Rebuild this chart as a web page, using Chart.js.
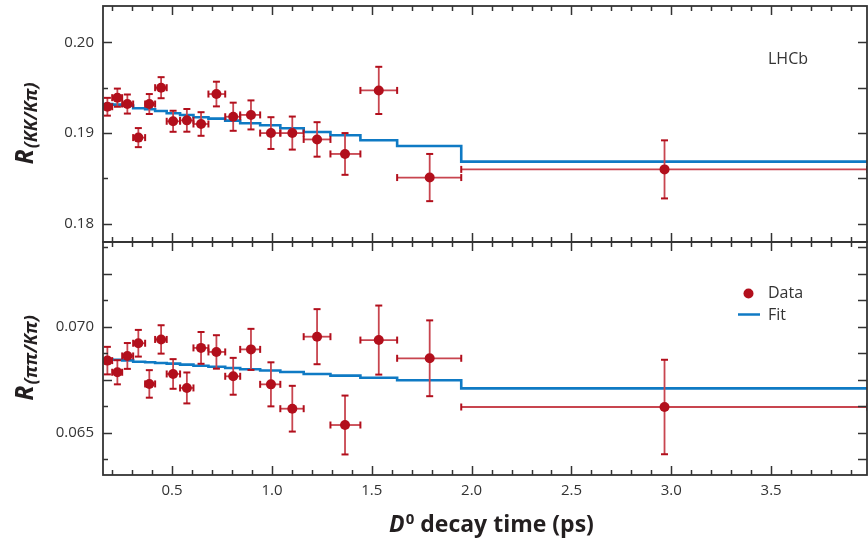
<!DOCTYPE html>
<html><head><meta charset="utf-8">
<script src="https://cdn.jsdelivr.net/npm/chart.js@4"></script>
<style>
html,body{margin:0;padding:0;background:#fff;overflow:hidden;}
#wrap{position:relative;width:868px;height:540px;overflow:hidden;}
canvas{position:absolute;left:0;}
#c1{top:0;} #c2{top:234px;}
</style></head><body>
<div id="wrap"><canvas id="c1" width="872" height="250"></canvas><canvas id="c2" width="872" height="306"></canvas></div>
<script>
// ---- data ----
const binEdges = [0.15, 0.20, 0.25, 0.305, 0.365, 0.415, 0.473, 0.54, 0.607, 0.682, 0.766, 0.841, 0.941, 1.042, 1.159, 1.293, 1.443, 1.627, 1.948, 3.98];
const decayTime = [0.176, 0.226, 0.276, 0.331, 0.386, 0.445, 0.505, 0.574, 0.645, 0.722, 0.806, 0.895, 0.995, 1.102, 1.226, 1.366, 1.535, 1.790, 2.966];
const rKK = [0.1929, 0.1939, 0.1932, 0.1895, 0.1932, 0.1950, 0.1913, 0.1914, 0.1910, 0.1943, 0.1918, 0.1920, 0.1900, 0.1900, 0.1893, 0.1877, 0.1947, 0.1851, 0.1860];
const rKKErr = [0.00098, 0.00100, 0.00105, 0.00105, 0.0011, 0.00116, 0.00116, 0.00125, 0.0013, 0.00136, 0.00155, 0.0016, 0.00175, 0.00182, 0.0019, 0.0023, 0.0026, 0.0026, 0.0032];
const fitKK = [0.19320, 0.19313, 0.19302, 0.19273, 0.19262, 0.19243, 0.19218, 0.19199, 0.19174, 0.19159, 0.19137, 0.19108, 0.19086, 0.19053, 0.19012, 0.18976, 0.18921, 0.18858, 0.18685];
const rPP = [0.06840, 0.06785, 0.06862, 0.06922, 0.06730, 0.06940, 0.06777, 0.06711, 0.06900, 0.06881, 0.06766, 0.06893, 0.06728, 0.06613, 0.06953, 0.06536, 0.06937, 0.06851, 0.06621];
const rPPErr = [0.00065, 0.00057, 0.00061, 0.00063, 0.00065, 0.00067, 0.0007, 0.00073, 0.00075, 0.00079, 0.00087, 0.00097, 0.00104, 0.00108, 0.0013, 0.00139, 0.00163, 0.00179, 0.00223];
const fitPP = [0.06846, 0.06844, 0.06841, 0.06835, 0.06832, 0.06829, 0.06826, 0.06821, 0.06816, 0.06811, 0.06805, 0.06799, 0.06793, 0.06786, 0.06777, 0.06769, 0.06759, 0.06747, 0.06709];
const xMajorTicks = [0.5, 1.0, 1.5, 2.0, 2.5, 3.0, 3.5];
const yTopLabels = [0.18, 0.19, 0.20];
const yBotLabels = [0.065, 0.070];

const X_MIN = 0.154, X_MAX = 3.98;
const FONT = "'Open Sans', sans-serif";
const RED = '#b20f1c', BAR = '#c8454f', BLUE = '#0f7ac4', FRAME = '#333333', TXT = '#333333';

function fitPoints(fit) {
  const pts = fit.map((v, i) => ({x: binEdges[i], y: v}));
  pts.push({x: binEdges[binEdges.length - 1], y: fit[fit.length - 1]});
  return pts;
}
function dataPoints(ys) { return ys.map((v, i) => ({x: decayTime[i], y: v})); }

const panels = {
  c1: {ys: rKK, errs: rKKErr, yMinorStep: 0.005, yLongStep: 0.01, sub: '(KK/Kπ)'},
  c2: {ys: rPP, errs: rPPErr, yMinorStep: 0.00125, yLongStep: 0.0025, sub: '(ππ/Kπ)'}
};

function line(ctx, x1, y1, x2, y2) { ctx.beginPath(); ctx.moveTo(x1, y1); ctx.lineTo(x2, y2); ctx.stroke(); }

function drawErrors(chart, p) {
  const {ctx, chartArea: a} = chart; const x = chart.scales.x, y = chart.scales.y;
  ctx.save();
  ctx.beginPath(); ctx.rect(a.left, a.top, a.right - a.left, a.bottom - a.top); ctx.clip();
  for (let i = 0; i < p.ys.length; i++) {
    const px = x.getPixelForValue(decayTime[i]), py = y.getPixelForValue(p.ys[i]);
    const xl = x.getPixelForValue(binEdges[i]), xr = x.getPixelForValue(binEdges[i + 1]);
    const yt = y.getPixelForValue(p.ys[i] + p.errs[i]), yb = y.getPixelForValue(p.ys[i] - p.errs[i]);
    ctx.strokeStyle = BAR; ctx.lineWidth = 1.8;
    line(ctx, xl, py, xr, py); line(ctx, px, yt, px, yb);
    ctx.strokeStyle = RED; ctx.lineWidth = 2;
    line(ctx, px - 3.5, yt, px + 3.5, yt); line(ctx, px - 3.5, yb, px + 3.5, yb);
    line(ctx, xl, py - 3.5, xl, py + 3.5); line(ctx, xr, py - 3.5, xr, py + 3.5);
  }
  ctx.restore();
}

function drawFrame(chart, p) {
  const {ctx, chartArea: a} = chart; const x = chart.scales.x, y = chart.scales.y;
  ctx.save();
  ctx.strokeStyle = FRAME; ctx.lineWidth = 1.5;
  for (let k = 2; k <= 39; k++) {
    const v = k / 10; if (v < X_MIN || v > X_MAX) continue;
    const px = Math.round(x.getPixelForValue(v)) + 0.5;
    const major = xMajorTicks.some(m => Math.abs(m - v) < 1e-6);
    const L = major ? 9 : 5;
    line(ctx, px, a.top, px, a.top + L);
    line(ctx, px, a.bottom, px, a.bottom - L);
  }
  const n0 = Math.ceil(y.min / p.yMinorStep - 1e-6), n1 = Math.floor(y.max / p.yMinorStep + 1e-6);
  for (let n = n0; n <= n1; n++) {
    const v = n * p.yMinorStep;
    const py = Math.round(y.getPixelForValue(v)) + 0.5;
    const r = v / p.yLongStep; const long = Math.abs(r - Math.round(r)) < 1e-4;
    line(ctx, a.left, py, a.left + (long ? 9 : 5), py);
    line(ctx, a.right, py, a.right - 9, py);
  }
  ctx.lineWidth = 1.8;
  ctx.strokeRect(a.left, a.top, a.right - a.left, a.bottom - a.top);
  ctx.restore();
}

function drawYTitle(chart, p) {
  const {ctx, chartArea: a} = chart;
  const cy = (a.top + a.bottom) / 2;
  ctx.save();
  ctx.translate(33, cy); ctx.rotate(-Math.PI / 2);
  ctx.fillStyle = '#231f20'; ctx.textAlign = 'left'; ctx.textBaseline = 'alphabetic';
  const fR = 'italic bold 25px ' + FONT, fS = 'italic bold 18px ' + FONT;
  ctx.font = fR; const wR = ctx.measureText('R').width;
  ctx.font = fS; const wS = ctx.measureText(p.sub).width;
  const x0 = -(wR + wS) / 2;
  ctx.font = fR; ctx.fillText('R', x0, 0);
  ctx.font = fS; ctx.fillText(p.sub, x0 + wR + 1, 4);
  ctx.restore();
}

const panelPlugin = {
  id: 'panelDeco',
  beforeDatasetDraw(chart, args) {
    if (args.index !== 1) return;
    drawErrors(chart, panels[chart.canvas.id]);
  },
  afterDraw(chart) {
    const p = panels[chart.canvas.id];
    const ctx = chart.ctx;
    drawFrame(chart, p);
    drawYTitle(chart, p);
    ctx.save();
    ctx.fillStyle = TXT; ctx.textAlign = 'left'; ctx.textBaseline = 'middle';
    if (chart.canvas.id === 'c1') {
      ctx.font = '16px ' + FONT; ctx.fillText('LHCb', 768, 59);
    } else {
      const off = 234;
      ctx.fillStyle = RED; ctx.beginPath(); ctx.arc(748.5, 293.5 - off, 5, 0, Math.PI * 2); ctx.fill();
      ctx.strokeStyle = BLUE; ctx.lineWidth = 2.5; line(ctx, 738, 314.5 - off, 760, 314.5 - off);
      ctx.fillStyle = TXT; ctx.font = '16px ' + FONT;
      ctx.fillText('Data', 768, 293.5 - off); ctx.fillText('Fit', 768, 315 - off);
      ctx.fillStyle = '#231f20'; ctx.textBaseline = 'alphabetic';
      const big = 'bold 23px ' + FONT, bigI = 'italic bold 23px ' + FONT, sm = 'bold 15px ' + FONT;
      ctx.font = bigI; const wD = ctx.measureText('D').width;
      ctx.font = sm; const w0 = ctx.measureText('0').width;
      ctx.font = big; const wT = ctx.measureText(' decay time (ps)').width;
      const total = wD + 1 + w0 + wT;
      let xs = 491.5 - total / 2; const base = 532 - off;
      ctx.font = bigI; ctx.fillText('D', xs, base); xs += wD + 1;
      ctx.font = sm; ctx.fillText('0', xs, base - 8); xs += w0;
      ctx.font = big; ctx.fillText(' decay time (ps)', xs, base);
    }
    ctx.restore();
  }
};

function makePanel(id, cfg) {
  const p = panels[id];
  return new Chart(document.getElementById(id), {
    data: {datasets: [
      {type: 'line', label: 'Fit', data: fitPoints(cfg.fit), stepped: true, borderColor: BLUE, borderWidth: 2.6,
       pointRadius: 0, fill: false, order: 2},
      {type: 'scatter', label: 'Data', data: dataPoints(p.ys), pointRadius: 5, pointHoverRadius: 5,
       backgroundColor: RED, borderWidth: 0, order: 1}
    ]},
    options: {
      responsive: false, animation: false, events: [],
      layout: {padding: {top: cfg.padTop, right: 0, bottom: cfg.padBottom, left: 0}},
      plugins: {legend: {display: false}, tooltip: {enabled: false}},
      scales: {
        x: {type: 'linear', min: X_MIN, max: X_MAX, display: cfg.showX,
            grid: {display: false, drawTicks: false}, border: {display: false},
            ticks: {stepSize: 0.5, includeBounds: false, autoSkip: false, maxRotation: 0,
                    callback: v => xMajorTicks.some(m => Math.abs(m - v) < 1e-6) ? v.toFixed(1) : '',
                    font: {family: FONT, size: 15}, color: TXT, padding: 7},
            afterFit: s => { s.height = cfg.xHeight; s.paddingLeft = 0; s.paddingRight = 0; }},
        y: {type: 'linear', min: cfg.yMin, max: cfg.yMax,
            grid: {display: false, drawTicks: false}, border: {display: false},
            ticks: {stepSize: cfg.yStep, includeBounds: false, autoSkip: false,
                    callback: v => cfg.labels.some(m => Math.abs(m - v) < 1e-7) ? v.toFixed(cfg.dec) : '',
                    font: {family: FONT, size: 15}, color: TXT, padding: 9},
            afterFit: s => { s.width = 103; s.paddingTop = 0; s.paddingBottom = 0; }}
      }
    },
    plugins: [panelPlugin]
  });
}

makePanel('c1', {fit: fitKK, yMin: 0.178, yMax: 0.204, yStep: 0.01, labels: yTopLabels, dec: 2,
                 showX: false, xHeight: 0, padTop: 6, padBottom: 8});
makePanel('c2', {fit: fitPP, yMin: 0.063, yMax: 0.074, yStep: 0.005, labels: yBotLabels, dec: 3,
                 showX: true, xHeight: 65, padTop: 8, padBottom: 0});
</script>
</body></html>
